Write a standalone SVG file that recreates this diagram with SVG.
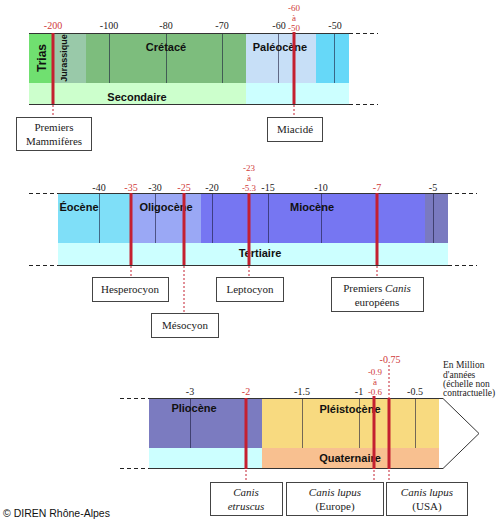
<svg xmlns="http://www.w3.org/2000/svg" width="500" height="522" viewBox="0 0 500 522">
<style>
.tick{stroke:#1a1a3a;stroke-opacity:.6;stroke-width:1}
.edge{stroke:#333;stroke-width:1;fill:none}
.ext{stroke:#222;stroke-width:1;stroke-dasharray:4 3;fill:none}
.red{stroke:#c42030;stroke-width:3}
.reddash{stroke:#c42030;stroke-width:1;stroke-dasharray:2 2}
.lbl{font-family:"Liberation Serif",serif;font-size:10px;fill:#222;text-anchor:middle}
.rlbl{font-family:"Liberation Serif",serif;font-size:10px;fill:#d03a3a;text-anchor:middle}
.stk{font-size:9px}
.per{font-family:"Liberation Sans",Arial,sans-serif;font-weight:bold;font-size:11px;fill:#111;text-anchor:middle}
.box rect{fill:#fff;stroke:#444;stroke-width:1}
.box text{font-family:"Liberation Serif",serif;font-size:11px;fill:#222;text-anchor:middle}
.it{font-style:italic}
</style>
<rect width="500" height="522" fill="#fff"/>

<!-- Band 1 -->
<g id="band1">
<rect x="29" y="33" width="24" height="50" fill="#70e070"/>
<rect x="53" y="33" width="33" height="50" fill="#99c9a9"/>
<rect x="86" y="33" width="160" height="50" fill="#7dbd7d"/>
<rect x="246" y="33" width="70" height="50" fill="#c7dff7"/>
<rect x="316" y="33" width="33" height="50" fill="#66d8f8"/>
<rect x="29" y="83" width="217" height="21" fill="#ccffcc"/>
<rect x="246" y="83" width="103" height="21" fill="#ccffff"/>
<line class="tick" x1="109.500" y1="33" x2="109.500" y2="83"/>
<line class="tick" x1="166.500" y1="33" x2="166.500" y2="83"/>
<line class="tick" x1="222.500" y1="33" x2="222.500" y2="83"/>
<line class="tick" x1="278.500" y1="33" x2="278.500" y2="83"/>
<line class="tick" x1="334.500" y1="33" x2="334.500" y2="83"/>
<line class="edge" x1="29" y1="33.500" x2="349" y2="33.500"/>
<line class="edge" x1="29" y1="104.500" x2="349" y2="104.500"/>
<line class="ext" x1="349" y1="33.500" x2="378" y2="33.500"/>
<line class="ext" x1="349" y1="104.500" x2="378" y2="104.500"/>
<text class="per" transform="translate(46,58) rotate(-90)" style="font-size:12px">Trias</text>
<text class="per" transform="translate(67,58) rotate(-90)" style="font-size:9px">Jurassique</text>
<text class="per" x="166" y="51">Crétacé</text>
<text class="per" x="280" y="51">Paléocène</text>
<text class="per" x="137" y="101">Secondaire</text>
<text class="lbl" x="109" y="29">-100</text>
<text class="lbl" x="166" y="29">-80</text>
<text class="lbl" x="222" y="29">-70</text>
<text class="lbl" x="279" y="29">-60</text>
<text class="lbl" x="335" y="29">-50</text>
<text class="rlbl" x="53" y="29">-200</text>
<text class="rlbl stk" x="294" y="11">-60</text>
<text class="rlbl stk" x="294" y="21">à</text>
<text class="rlbl stk" x="294" y="31">-50</text>
</g>

<!-- Band 2 -->
<g id="band2">
<rect x="58" y="193" width="72" height="50" fill="#7fdff8"/>
<rect x="130" y="193" width="71" height="50" fill="#9aa8f5"/>
<rect x="201" y="193" width="224" height="50" fill="#7676f2"/>
<rect x="425" y="193" width="23" height="50" fill="#7a7ac0"/>
<rect x="58" y="243" width="390" height="22" fill="#ccffff"/>
<line class="tick" x1="99.500" y1="193" x2="99.500" y2="243"/>
<line class="tick" x1="155.500" y1="193" x2="155.500" y2="243"/>
<line class="tick" x1="212.500" y1="193" x2="212.500" y2="243"/>
<line class="tick" x1="268.500" y1="193" x2="268.500" y2="243"/>
<line class="tick" x1="321.500" y1="193" x2="321.500" y2="243"/>
<line class="tick" x1="433.500" y1="193" x2="433.500" y2="243"/>
<line class="edge" x1="58" y1="193.500" x2="448" y2="193.500"/>
<line class="edge" x1="58" y1="265.500" x2="448" y2="265.500"/>
<line class="ext" x1="29" y1="193.500" x2="58" y2="193.500"/>
<line class="ext" x1="29" y1="265.500" x2="58" y2="265.500"/>
<line class="ext" x1="448" y1="193.500" x2="477" y2="193.500"/>
<line class="ext" x1="448" y1="265.500" x2="477" y2="265.500"/>
<text class="per" x="79" y="211">Éocène</text>
<text class="per" x="166" y="211">Oligocène</text>
<text class="per" x="312" y="211">Miocène</text>
<text class="per" x="260" y="257">Tertiaire</text>
<text class="lbl" x="99" y="191">-40</text>
<text class="lbl" x="155" y="191">-30</text>
<text class="lbl" x="212" y="191">-20</text>
<text class="lbl" x="268" y="191">-15</text>
<text class="lbl" x="321" y="191">-10</text>
<text class="lbl" x="433" y="191">-5</text>
<text class="rlbl" x="131" y="191">-35</text>
<text class="rlbl" x="184" y="191">-25</text>
<text class="rlbl" x="377" y="191">-7</text>
<text class="rlbl stk" x="249" y="171">-23</text>
<text class="rlbl stk" x="249" y="181">à</text>
<text class="rlbl stk" x="249" y="191">-5.3</text>
</g>

<!-- Band 3 -->
<g id="band3">
<rect x="149" y="398" width="113" height="50" fill="#7b7bc0"/>
<rect x="262" y="398" width="177" height="50" fill="#f8da80"/>
<rect x="149" y="448" width="113" height="21" fill="#ccffff"/>
<rect x="262" y="448" width="177" height="21" fill="#f8c090"/>
<line class="tick" x1="190.500" y1="398" x2="190.500" y2="448"/>
<line class="tick" x1="302.500" y1="398" x2="302.500" y2="448"/>
<line class="tick" x1="359.500" y1="398" x2="359.500" y2="448"/>
<line class="tick" x1="415.500" y1="398" x2="415.500" y2="448"/>
<polyline class="edge" points="149,398.500 443,398.500 479,433.500 443,468.500 149,468.500"/>
<line class="ext" x1="120" y1="398.500" x2="149" y2="398.500"/>
<line class="ext" x1="120" y1="468.500" x2="149" y2="468.500"/>
<text class="per" x="194" y="412">Pliocène</text>
<text class="per" x="350" y="413">Pléistocène</text>
<text class="per" x="350" y="462">Quaternaire</text>
<text class="lbl" x="190" y="395">-3</text>
<text class="lbl" x="302" y="395">-1.5</text>
<text class="lbl" x="359" y="395">-1</text>
<text class="lbl" x="415" y="395">-0.5</text>
<text class="rlbl" x="246" y="395">-2</text>
<text class="rlbl stk" x="375" y="375">-0.9</text>
<text class="rlbl stk" x="375" y="385">à</text>
<text class="rlbl stk" x="375" y="395">-0.6</text>
<text class="rlbl" x="390" y="363">-0.75</text>
<g font-family="Liberation Serif, serif" font-size="9.500" fill="#222">
<text x="443" y="368">En Million</text>
<text x="443" y="378">d'années</text>
<text x="443" y="387">(échelle non</text>
<text x="443" y="396">contractuelle)</text>
</g>
</g>

<!-- Connectors -->
<g id="connectors">
<line class="red" x1="53" y1="33" x2="53" y2="104"/>
<line class="reddash" x1="53" y1="105" x2="53" y2="117"/>
<line class="red" x1="294" y1="32" x2="294" y2="104"/>
<line class="reddash" x1="294" y1="105" x2="294" y2="117"/>
<line class="red" x1="131" y1="193" x2="131" y2="265"/>
<line class="reddash" x1="131" y1="266" x2="131" y2="277"/>
<line class="red" x1="184" y1="193" x2="184" y2="265"/>
<line class="reddash" x1="184" y1="266" x2="184" y2="313"/>
<line class="red" x1="249" y1="193" x2="249" y2="265"/>
<line class="reddash" x1="249" y1="266" x2="249" y2="277"/>
<line class="red" x1="377" y1="193" x2="377" y2="265"/>
<line class="reddash" x1="377" y1="266" x2="377" y2="277"/>
<line class="red" x1="246" y1="398" x2="246" y2="469"/>
<line class="reddash" x1="246" y1="470" x2="246" y2="482"/>
<line class="red" x1="374" y1="396" x2="374" y2="469"/>
<line class="reddash" x1="374" y1="470" x2="374" y2="482"/>
<line class="reddash" x1="389" y1="365" x2="389" y2="398"/>
<line class="red" x1="389" y1="398" x2="389" y2="469"/>
<line class="reddash" x1="389" y1="470" x2="389" y2="482"/>
</g>

<!-- Boxes -->
<g id="premiers-mammiferes" class="box"><rect x="16.500" y="117.500" width="75" height="33"/><text x="54" y="131">Premiers</text><text x="54" y="145">Mammifères</text></g>
<g id="miacide" class="box"><rect x="267.500" y="117.500" width="55" height="24"/><text x="295" y="133">Miacidé</text></g>
<g id="hesperocyon" class="box"><rect x="92.500" y="277.500" width="76" height="24"/><text x="130" y="293">Hesperocyon</text></g>
<g id="mesocyon" class="box"><rect x="151.500" y="313.500" width="67" height="24"/><text x="185" y="329">Mésocyon</text></g>
<g id="leptocyon" class="box"><rect x="216.500" y="277.500" width="67" height="24"/><text x="250" y="293">Leptocyon</text></g>
<g id="premiers-canis" class="box"><rect x="331.500" y="277.500" width="92" height="34"/><text x="377" y="292">Premiers <tspan class="it">Canis</tspan></text><text x="377" y="306">européens</text></g>
<g id="canis-etruscus" class="box"><rect x="210.500" y="482.500" width="72" height="33"/><text class="it" x="246" y="496">Canis</text><text class="it" x="246" y="510">etruscus</text></g>
<g id="canis-lupus-europe" class="box"><rect x="286.500" y="482.500" width="97" height="33"/><text class="it" x="335" y="496">Canis lupus</text><text x="335" y="510">(Europe)</text></g>
<g id="canis-lupus-usa" class="box"><rect x="386.500" y="482.500" width="81" height="33"/><text class="it" x="427" y="496">Canis lupus</text><text x="427" y="510">(USA)</text></g>

<text x="3" y="517" font-family="Liberation Sans, Arial, sans-serif" font-size="10.500" fill="#111">© DIREN Rhône-Alpes</text>
</svg>
